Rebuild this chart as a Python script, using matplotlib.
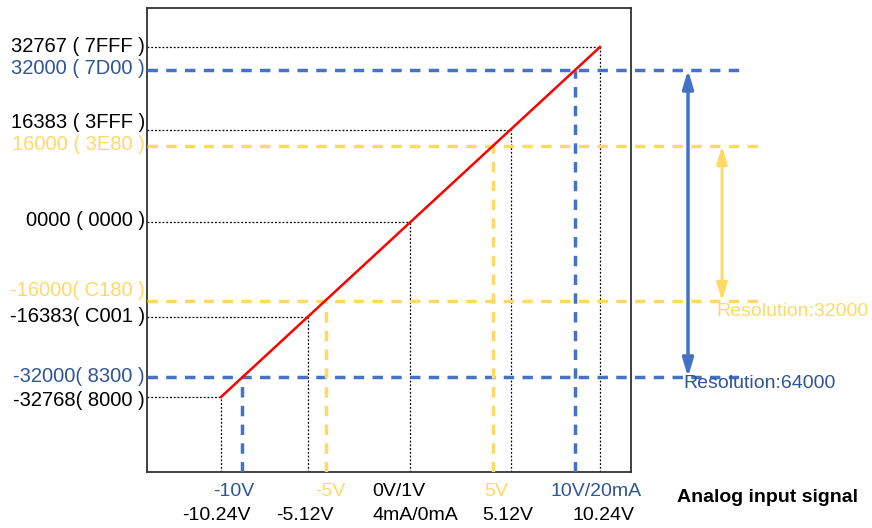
import numpy as np
import matplotlib
matplotlib.use('Agg')
from matplotlib import pyplot as plt

plt.rcParams['font.family'] = ['Liberation Sans', 'DejaVu Sans']

# full-scale points (volts, code)
full_v = [-10.24, -5.12, 0, 5.12, 10.24]
full_code = [-32768, -16383, 0, 16383, 32767]
full_labels = ['-32768( 8000 )', '-16383( C001 )', '0000 ( 0000 )', '16383 ( 3FFF )', '32767 ( 7FFF )']
full_xlab = ['-10.24V', '-5.12V', '4mA/0mA', '5.12V', '10.24V']

# +-10V range
blue_v = [-10, 10]
blue_code = [-32000, 32000]
blue_labels = ['-32000( 8300 )', '32000 ( 7D00 )']
blue_xlab = ['-10V', '10V/20mA']

# +-5V range
yellow_v = [-5, 5]
yellow_code = [-16000, 16000]
yellow_labels = ['-16000( C180 )', '16000 ( 3E80 )']
yellow_xlab = ['-5V', '5V']

zero_xlab = '0V/1V'

RED = '#FF0000'
BLUE = '#4472C4'
BLUE_TXT = '#2F5597'
YELLOW = '#FFD966'


# schematic (piecewise linear) scale, the drawing is not to scale
def piecewise(vals, pos):
    vals = np.asarray(vals, float)
    pos = np.asarray(pos, float)
    s0 = (pos[1] - pos[0]) / (vals[1] - vals[0])
    s1 = (pos[-1] - pos[-2]) / (vals[-1] - vals[-2])

    def f(v):
        v = np.asarray(v, float)
        out = np.interp(v, vals, pos)
        out = np.where(v < vals[0], pos[0] + (v - vals[0]) * s0, out)
        out = np.where(v > vals[-1], pos[-1] + (v - vals[-1]) * s1, out)
        return out
    return f


x_knots = [-14, -10.24, -10, -5.12, -5, 0, 5, 5.12, 10, 10.24, 12]
x_pos = [147, 221, 242, 308, 326, 410, 493, 511, 575, 600, 631]
y_knots = [-48000, -32768, -32000, -16383, -16000, 0, 16000, 16383, 32000, 32767, 40000]
y_pos = [56, 131, 151, 211, 227, 306, 382, 398, 458, 481, 520]

fig = plt.figure(figsize=(8.72, 5.28), dpi=100)
ax = fig.add_axes([147 / 872, 56 / 528, 484 / 872, 464 / 528])
ax.set_xscale('function', functions=(piecewise(x_knots, x_pos), piecewise(x_pos, x_knots)))
ax.set_yscale('function', functions=(piecewise(y_knots, y_pos), piecewise(y_pos, y_knots)))
xmin, xmax = x_knots[0], x_knots[-1]
ymin, ymax = y_knots[0], y_knots[-1]
ax.set_xlim(xmin, xmax)
ax.set_ylim(ymin, ymax)
ax.set_xticks([])
ax.set_yticks([])
ax.minorticks_off()
for sp in ax.spines.values():
    sp.set_color('#333333')
    sp.set_linewidth(1.3)

ytr = ax.get_yaxis_transform()
xtr = ax.get_xaxis_transform()

# black dotted guides
for v, c in zip(full_v, full_code):
    ax.plot([xmin, v], [c, c], color='k', lw=0.9, ls=(0, (1.5, 1.5)), zorder=2)
    ax.plot([v, v], [ymin, c], color='k', lw=0.9, ls=(0, (1.5, 1.5)), zorder=2)

# dashed guides
dash = (0, (3, 2.4))
for v, c in zip(blue_v, blue_code):
    ax.plot([0, 1.2355], [c, c], color=BLUE, lw=2.5, ls=dash, transform=ytr, clip_on=False, zorder=3)
    ax.plot([v, v], [ymin, c], color=BLUE, lw=2.5, ls=dash, zorder=3)
for v, c in zip(yellow_v, yellow_code):
    ax.plot([0, 1.2665], [c, c], color=YELLOW, lw=2.5, ls=dash, transform=ytr, clip_on=False, zorder=3)
    ax.plot([v, v], [ymin, c], color=YELLOW, lw=2.5, ls=dash, zorder=3)

# conversion line
ax.plot([full_v[0], full_v[-1]], [full_code[0], full_code[-1]], color=RED, lw=1.8, zorder=4)

# y labels
fs = 14
yfs = 14.5
full_dy = [-4, 0, 2, 7, 1]
for c, lab, dy in zip(full_code, full_labels, full_dy):
    ax.annotate(lab, xy=(0, c), xycoords=ytr, xytext=(-2, dy), textcoords='offset pixels',
                ha='right', va='center', fontsize=yfs, color='k', annotation_clip=False)
for c, lab, dy in zip(blue_code, blue_labels, [0, 1]):
    ax.annotate(lab, xy=(0, c), xycoords=ytr, xytext=(-2, dy), textcoords='offset pixels',
                ha='right', va='center', fontsize=yfs, color=BLUE_TXT, annotation_clip=False)
for c, lab, dy in zip(yellow_code, yellow_labels, [10, 1]):
    ax.annotate(lab, xy=(0, c), xycoords=ytr, xytext=(-2, dy), textcoords='offset pixels',
                ha='right', va='center', fontsize=yfs, color=YELLOW, annotation_clip=False)

# x labels, two rows
row1 = -20
row2 = -43
for v, lab, dx in zip(full_v, full_xlab, [-5, -3, 5, -3, 3]):
    ax.annotate(lab, xy=(v, 0), xycoords=xtr, xytext=(dx, row2), textcoords='offset pixels',
                ha='center', va='center', fontsize=fs, color='k', annotation_clip=False)
for v, lab, dx in zip(blue_v, blue_xlab, [-8, 21]):
    ax.annotate(lab, xy=(v, 0), xycoords=xtr, xytext=(dx, row1), textcoords='offset pixels',
                ha='center', va='center', fontsize=fs, color=BLUE_TXT, annotation_clip=False)
for v, lab, dx in zip(yellow_v, yellow_xlab, [4, 3]):
    ax.annotate(lab, xy=(v, 0), xycoords=xtr, xytext=(dx, row1), textcoords='offset pixels',
                ha='center', va='center', fontsize=fs, color=YELLOW, annotation_clip=False)
ax.annotate(zero_xlab, xy=(0, 0), xycoords=xtr, xytext=(-11, row1), textcoords='offset pixels',
            ha='center', va='center', fontsize=fs, color='k', annotation_clip=False)

# resolution arrows
ax.annotate('', xy=(1.1178, blue_code[1]), xytext=(1.1178, blue_code[0]), xycoords=ytr,
            arrowprops=dict(arrowstyle='<|-|>,head_length=0.6,head_width=0.18', color=BLUE,
                            lw=2.5, shrinkA=0, shrinkB=0, mutation_scale=18),
            annotation_clip=False)
ax.annotate('', xy=(1.188, yellow_code[1]), xytext=(1.188, yellow_code[0]), xycoords=ytr,
            arrowprops=dict(arrowstyle='<|-|>,head_length=0.6,head_width=0.18', color=YELLOW,
                            lw=2, shrinkA=0, shrinkB=0, mutation_scale=18),
            annotation_clip=False)
ax.annotate('Resolution:%d' % (yellow_code[1] - yellow_code[0]), xy=(1.1756, yellow_code[0]),
            xycoords=ytr, xytext=(0, -11), textcoords='offset pixels', ha='left', va='center',
            fontsize=fs, color=YELLOW, annotation_clip=False)
ax.annotate('Resolution:%d' % (blue_code[1] - blue_code[0]), xy=(1.1074, blue_code[0]),
            xycoords=ytr, xytext=(0, -6), textcoords='offset pixels', ha='left', va='center',
            fontsize=fs, color=BLUE_TXT, annotation_clip=False)

fig.text(677 / 872, 1 - 497 / 528, 'Analog input signal', ha='left', va='center',
         fontsize=fs, fontweight='bold', color='k')

fig.savefig('out.png', dpi=100)
